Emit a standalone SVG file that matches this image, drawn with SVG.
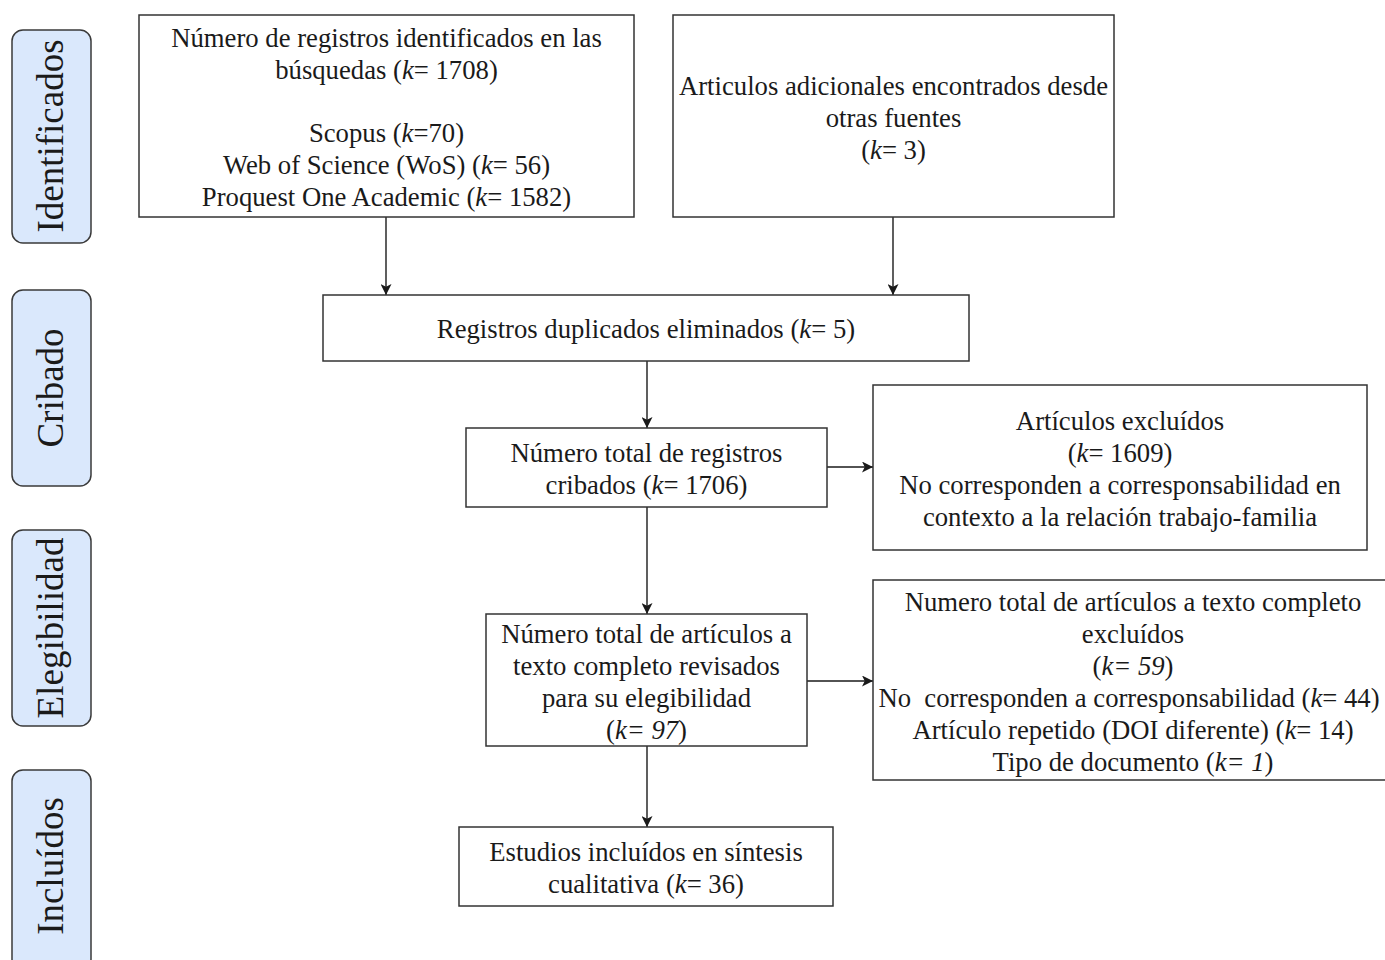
<svg xmlns="http://www.w3.org/2000/svg" width="1385" height="960" viewBox="0 0 1385 960">
<style>
.box{fill:#ffffff;stroke:#333333;stroke-width:1.5}
.side{fill:#dae8fc;stroke:#3a3a3a;stroke-width:1.5}
.t{font-family:"Liberation Serif","Times New Roman",serif;font-size:26.7px;fill:#1a1a1a;text-anchor:middle}
.st{font-family:"Liberation Serif","Times New Roman",serif;font-size:37px;fill:#1a1a1a;text-anchor:middle}
.i{font-style:italic}
.c{fill:none;stroke:#1a1a1a;stroke-width:1.4}
</style>
<defs>
<marker id="ah" viewBox="0 0 10 10" refX="10" refY="5" markerWidth="11" markerHeight="11" markerUnits="userSpaceOnUse" orient="auto">
<path d="M0,0 L10,5 L0,10 L2.5,5 Z" fill="#1a1a1a"/>
</marker>
</defs>
<rect width="1385" height="960" fill="#ffffff"/>

<g id="side-identificados">
<rect class="side" x="12" y="30" width="79" height="213" rx="11"/>
<text class="st" transform="translate(63,136) rotate(-90)">Identificados</text>
</g>
<g id="side-cribado">
<rect class="side" x="12" y="290" width="79" height="196" rx="11"/>
<text class="st" transform="translate(63,388) rotate(-90)">Cribado</text>
</g>
<g id="side-elegibilidad">
<rect class="side" x="12" y="530" width="79" height="196" rx="11"/>
<text class="st" transform="translate(63,628) rotate(-90)">Elegibilidad</text>
</g>
<g id="side-incluidos">
<rect class="side" x="12" y="770" width="79" height="200" rx="11"/>
<text class="st" transform="translate(63,866) rotate(-90)">Incluídos</text>
</g>

<g id="connectors">
<line class="c" x1="386" y1="217" x2="386" y2="295" marker-end="url(#ah)"/>
<line class="c" x1="893" y1="217" x2="893" y2="295" marker-end="url(#ah)"/>
<line class="c" x1="647" y1="361" x2="647" y2="428" marker-end="url(#ah)"/>
<line class="c" x1="827" y1="467" x2="873" y2="467" marker-end="url(#ah)"/>
<line class="c" x1="647" y1="507" x2="647" y2="614" marker-end="url(#ah)"/>
<line class="c" x1="807" y1="681" x2="873" y2="681" marker-end="url(#ah)"/>
<line class="c" x1="647" y1="746" x2="647" y2="827" marker-end="url(#ah)"/>
</g>

<g id="node-identificados">
<rect class="box" x="139" y="15" width="495" height="202"/>
<text class="t" x="386.5" y="47">Número de registros identificados en las</text>
<text class="t" x="386.5" y="79">búsquedas (<tspan class="i">k</tspan>= 1708)</text>
<text class="t" x="386.5" y="142">Scopus (<tspan class="i">k</tspan>=70)</text>
<text class="t" x="386.5" y="174">Web of Science (WoS) (<tspan class="i">k</tspan>= 56)</text>
<text class="t" x="386.5" y="206">Proquest One Academic (<tspan class="i">k</tspan>= 1582)</text>
</g>

<g id="node-adicionales">
<rect class="box" x="673" y="15" width="441" height="202"/>
<text class="t" x="893.5" y="95">Articulos adicionales encontrados desde</text>
<text class="t" x="893.5" y="127">otras fuentes</text>
<text class="t" x="893.5" y="159">(<tspan class="i">k</tspan>= 3)</text>
</g>

<g id="node-duplicados">
<rect class="box" x="323" y="295" width="646" height="66"/>
<text class="t" x="646" y="338">Registros duplicados eliminados (<tspan class="i">k</tspan>= 5)</text>
</g>

<g id="node-cribados">
<rect class="box" x="466" y="428" width="361" height="79"/>
<text class="t" x="646.5" y="462">Número total de registros</text>
<text class="t" x="646.5" y="494">cribados (<tspan class="i">k</tspan>= 1706)</text>
</g>

<g id="node-excluidos">
<rect class="box" x="873" y="385" width="494" height="165"/>
<text class="t" x="1120" y="430">Artículos excluídos</text>
<text class="t" x="1120" y="462">(<tspan class="i">k</tspan>= 1609)</text>
<text class="t" x="1120" y="494">No corresponden a corresponsabilidad en</text>
<text class="t" x="1120" y="526">contexto a la relación trabajo-familia</text>
</g>

<g id="node-elegibles">
<rect class="box" x="486" y="614" width="321" height="132"/>
<text class="t" x="646.5" y="643">Número total de artículos a</text>
<text class="t" x="646.5" y="675">texto completo revisados</text>
<text class="t" x="646.5" y="707">para su elegibilidad</text>
<text class="t" x="646.5" y="739">(<tspan class="i">k= 97</tspan>)</text>
</g>

<g id="node-excluidos-texto">
<rect class="box" x="873" y="580" width="520" height="200"/>
<text class="t" x="1133" y="611">Numero total de artículos a texto completo</text>
<text class="t" x="1133" y="643">excluídos</text>
<text class="t" x="1133" y="675">(<tspan class="i">k= 59</tspan>)</text>
<text class="t" x="1129" y="707" xml:space="preserve">No  corresponden a corresponsabilidad (<tspan class="i">k</tspan>= 44)</text>
<text class="t" x="1133" y="739">Artículo repetido (DOI diferente) (<tspan class="i">k</tspan>= 14)</text>
<text class="t" x="1133" y="771">Tipo de documento (<tspan class="i">k= 1</tspan>)</text>
</g>

<g id="node-incluidos">
<rect class="box" x="459" y="827" width="374" height="79"/>
<text class="t" x="646" y="861">Estudios incluídos en síntesis</text>
<text class="t" x="646" y="893">cualitativa (<tspan class="i">k</tspan>= 36)</text>
</g>
</svg>
